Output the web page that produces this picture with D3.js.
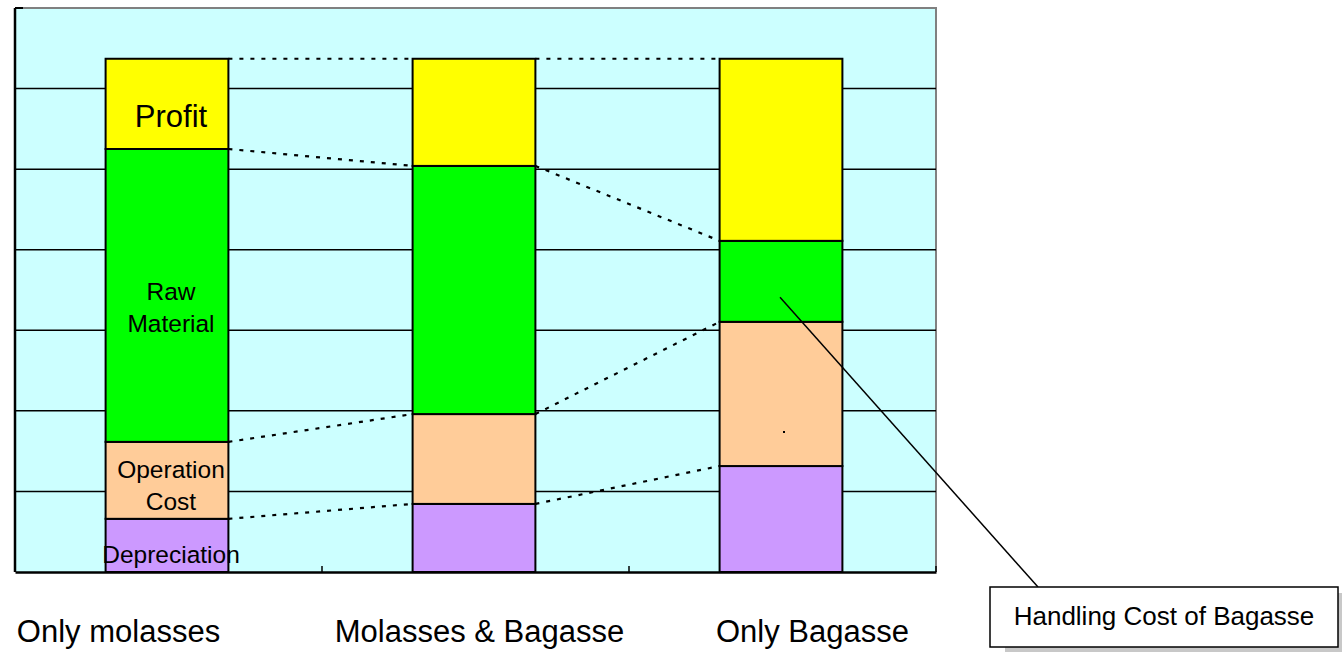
<!DOCTYPE html>
<html>
<head>
<meta charset="utf-8">
<script src="https://cdn.jsdelivr.net/npm/d3@7"></script>
<style>
  body { margin: 0; background: #fff; }
  text { font-family: "Liberation Sans", Arial, sans-serif; }
</style>
</head>
<body>
<div class="cost-chart"></div>
<script>
// values (arbitrary units, gridline = 1)
const categories = ["Only molasses", "Molasses & Bagasse", "Only Bagasse"];
const depreciation = [0.66, 0.845, 1.315];
const operationCost = [0.955, 1.115, 1.79];
const rawMaterial = [3.635, 3.08, 0];
const handlingCost = [0, 0, 1.005];
const profit = [1.12, 1.33, 2.26];
const yTicks = [1, 2, 3, 4, 5, 6];

const keys = ["depreciation", "operationCost", "rawMaterial", "handlingCost", "profit"];
const colors = {
  depreciation: "#CC99FF",
  operationCost: "#FFCC99",
  rawMaterial: "#00FF00",
  handlingCost: "#00FF00",
  profit: "#FFFF00"
};

const rows = categories.map((c, i) => ({
  name: c,
  depreciation: depreciation[i],
  operationCost: operationCost[i],
  rawMaterial: rawMaterial[i],
  handlingCost: handlingCost[i],
  profit: profit[i]
}));

const W = 1342, H = 652;
const plot = { left: 15, top: 8, right: 936, bottom: 572 };

const svg = d3.select(".cost-chart").append("svg")
  .attr("width", W).attr("height", H);

const x = d3.scaleBand().domain(categories).range([plot.left, plot.right]).padding(0);
const y = d3.scaleLinear().domain([0, 7]).range([plot.bottom, plot.top]);
const barW = x.bandwidth() * 0.40;
const barX = d => x(d) + (x.bandwidth() - barW) / 2 - 1.5;

// plot background
svg.append("rect")
  .attr("x", plot.left).attr("y", plot.top)
  .attr("width", plot.right - plot.left).attr("height", plot.bottom - plot.top)
  .attr("fill", "#CCFFFF");

// top / right frame (grey)
svg.append("path")
  .attr("d", `M${plot.left},${plot.top}H${plot.right}V${plot.bottom}`)
  .attr("fill", "none").attr("stroke", "#808080").attr("stroke-width", 2);

// gridlines
svg.append("g").selectAll("line").data(yTicks).enter().append("line")
  .attr("x1", plot.left).attr("x2", plot.right)
  .attr("y1", d => y(d)).attr("y2", d => y(d))
  .attr("stroke", "#000").attr("stroke-width", 1.5);

// stacked bars
const stacked = d3.stack().keys(keys)(rows);
svg.append("g").selectAll("g").data(stacked).enter().append("g")
  .attr("fill", d => colors[d.key])
  .selectAll("rect").data(d => d).enter().append("rect")
  .attr("x", d => barX(d.data.name))
  .attr("width", barW)
  .attr("y", d => y(d[1]))
  .attr("height", d => y(d[0]) - y(d[1]))
  .attr("stroke", d => (d[1] - d[0]) > 0 ? "#000" : "none")
  .attr("stroke-width", 2);

// dotted connectors between bars at each boundary
const levels = [0, 1, 3, 4]; // top of depreciation, operation, raw/handling, profit
const conn = [];
levels.forEach(li => {
  for (let i = 0; i < rows.length - 1; i++) {
    conn.push({
      x1: barX(categories[i]) + barW,
      y1: y(stacked[li][i][1]),
      x2: barX(categories[i + 1]),
      y2: y(stacked[li][i + 1][1])
    });
  }
});
svg.append("g").selectAll("line").data(conn).enter().append("line")
  .attr("x1", d => d.x1).attr("y1", d => d.y1)
  .attr("x2", d => d.x2).attr("y2", d => d.y2)
  .attr("stroke", "#000").attr("stroke-width", 2.2)
  .attr("stroke-dasharray", "4,7");

// axes
const xAxis = svg.append("g")
  .attr("transform", `translate(0,${plot.bottom})`)
  .call(d3.axisBottom(x).tickSize(0).tickFormat(""));
xAxis.select(".domain").attr("stroke", "#000").attr("stroke-width", 2.5);
xAxis.selectAll(".tick").remove();
xAxis.selectAll(".sep").data(categories).enter().append("line")
  .attr("x1", d => x(d) + x.bandwidth()).attr("x2", d => x(d) + x.bandwidth())
  .attr("y1", 0).attr("y2", -6)
  .attr("stroke", "#000").attr("stroke-width", 1.5);

const yAxis = svg.append("g")
  .attr("transform", `translate(${plot.left},0)`)
  .call(d3.axisLeft(y).tickValues([]).tickSizeOuter(0));
yAxis.select(".domain").attr("stroke", "#000").attr("stroke-width", 2.5)
  .attr("d", `M0,${plot.top}V${plot.bottom}`);
svg.append("line")
  .attr("x1", plot.left).attr("x2", plot.left + 8)
  .attr("y1", plot.top).attr("y2", plot.top)
  .attr("stroke", "#000").attr("stroke-width", 2);

// labels inside the first bar
const b0 = categories[0];
const cx = barX(b0) + barW / 2;
const midOf = (k, i) => y((stacked[k][i][0] + stacked[k][i][1]) / 2);
const inner = [
  { lines: ["Profit"], k: 4, size: 31, dy: 15 },
  { lines: ["Raw", "Material"], k: 2, size: 24.5, dy: 15 },
  { lines: ["Operation", "Cost"], k: 1, size: 24.5, dy: 8 },
  { lines: ["Depreciation"], k: 0, size: 24.5, dy: 12 }
];
inner.forEach(l => {
  const t = svg.append("text")
    .attr("x", cx + 4)
    .attr("y", midOf(l.k, 0) + l.dy - (l.lines.length - 1) * 16)
    .attr("text-anchor", "middle")
    .attr("dominant-baseline", "middle")
    .attr("font-size", l.size)
    .attr("fill", "#000");
  l.lines.forEach((s, j) => {
    t.append("tspan").attr("x", cx + 4).attr("dy", j === 0 ? 0 : 32).text(s);
  });
});

// tiny dot in third bar
svg.append("rect")
  .attr("x", barX(categories[2]) + barW / 2 + 2).attr("y", y(1.75))
  .attr("width", 2).attr("height", 2).attr("fill", "#000");

// category labels
const labelShift = [-50, 4, 30];
svg.append("g").selectAll("text").data(categories).enter().append("text")
  .attr("x", (d, i) => x(d) + x.bandwidth() / 2 + labelShift[i])
  .attr("y", 642)
  .attr("text-anchor", "middle")
  .attr("font-size", 31)
  .attr("fill", "#000")
  .text(d => d);

// annotation callout
const box = { x: 990, y: 587, w: 348, h: 60 };
const hx = barX(categories[2]) + barW / 2;
const hy = y(stacked[3][2][0] + handlingCost[2] / 2) + 16;
svg.append("line")
  .attr("x1", hx - 1).attr("y1", hy)
  .attr("x2", box.x + 48).attr("y2", box.y)
  .attr("stroke", "#000").attr("stroke-width", 1.5);
svg.append("rect")
  .attr("x", box.x + 15).attr("y", box.y + 6)
  .attr("width", box.w).attr("height", box.h)
  .attr("fill", "#c8c8c8");
svg.append("rect")
  .attr("x", box.x).attr("y", box.y)
  .attr("width", box.w).attr("height", box.h)
  .attr("fill", "#fff").attr("stroke", "#000").attr("stroke-width", 1.5);
svg.append("text")
  .attr("x", box.x + box.w / 2).attr("y", box.y + 38)
  .attr("text-anchor", "middle")
  .attr("font-size", 26)
  .attr("fill", "#000")
  .text("Handling Cost of Bagasse");
</script>
</body>
</html>
